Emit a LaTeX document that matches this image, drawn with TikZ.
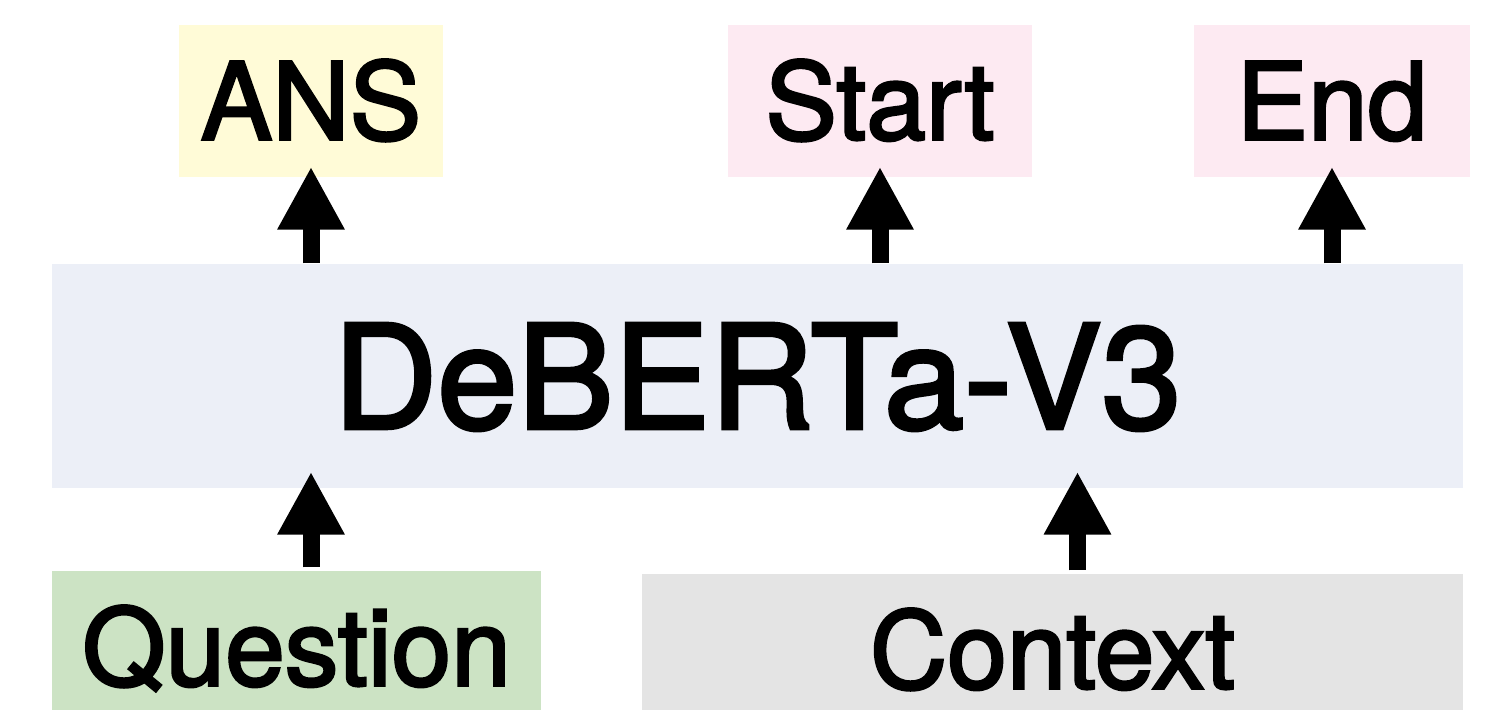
\documentclass[tikz,border=0pt]{standalone}
\usepackage{fontspec}
\setmainfont{TeX Gyre Heros}[FakeBold=2.5]
\usetikzlibrary{arrows.meta}

\definecolor{ans_yellow}{RGB}{255,251,215}
\definecolor{span_pink}{RGB}{253,234,242}
\definecolor{model_blue}{RGB}{236,239,247}
\definecolor{question_green}{RGB}{204,227,196}
\definecolor{context_grey}{RGB}{228,228,228}

\newcommand{\boxfont}{\fontsize{30.5}{36}\selectfont}
\newcommand{\modelfont}{\fontsize{41}{48}\selectfont}

\begin{document}
\begin{tikzpicture}
        \tikzstyle{io_box}    = [shape = rectangle, inner sep = 0pt, minimum height = 1.52cm,
                                 text height = 0.77cm, text depth = 0pt, font = \boxfont]
        \tikzstyle{model_box} = [shape = rectangle, inner sep = 0pt, minimum height = 2.24cm,
                                 text height = 1.05cm, text depth = 0pt, font = \modelfont]
        \tikzstyle{up_arrow}  = [-{Triangle[width=6.3mm, length=6.3mm]}, line width = 1.7mm]

        \clip (0, 0) rectangle (15.06, 7.10);

        \node[io_box, fill = ans_yellow, minimum width = 2.64cm] at (3.11, 6.09) (ans) {ANS};
        \node[io_box, fill = span_pink,  minimum width = 3.04cm] at (8.80, 6.09) (start) {Start};
        \node[io_box, fill = span_pink,  minimum width = 2.76cm] at (13.32, 6.09) (end) {End};

        \node[model_box, fill = model_blue, minimum width = 14.11cm] at (7.575, 3.34) (deberta) {DeBERTa-V3};

        \node[io_box, fill = question_green, minimum width = 4.89cm] at (2.965, 0.63) (question) {Question};
        \node[io_box, fill = context_grey,   minimum width = 8.21cm] at (10.525, 0.60) (context) {Context};

        \coordinate (context_in) at ([xshift = 2.5mm] context.north);

        % outputs
        \draw[up_arrow, shorten >= -1.1mm] (deberta.north -| ans)   -- (ans);
        \draw[up_arrow, shorten >= -1.1mm] (deberta.north -| start) -- (start);
        \draw[up_arrow, shorten >= -1.1mm] (deberta.north -| end)   -- (end);

        % inputs
        \draw[up_arrow, shorten <= 0.3mm, shorten >= -1.7mm] (question.north -| ans) -- (deberta.south -| ans);
        \draw[up_arrow, shorten <= 0.3mm, shorten >= -1.7mm] (context_in) -- (context_in |- deberta.south);
\end{tikzpicture}
\end{document}
